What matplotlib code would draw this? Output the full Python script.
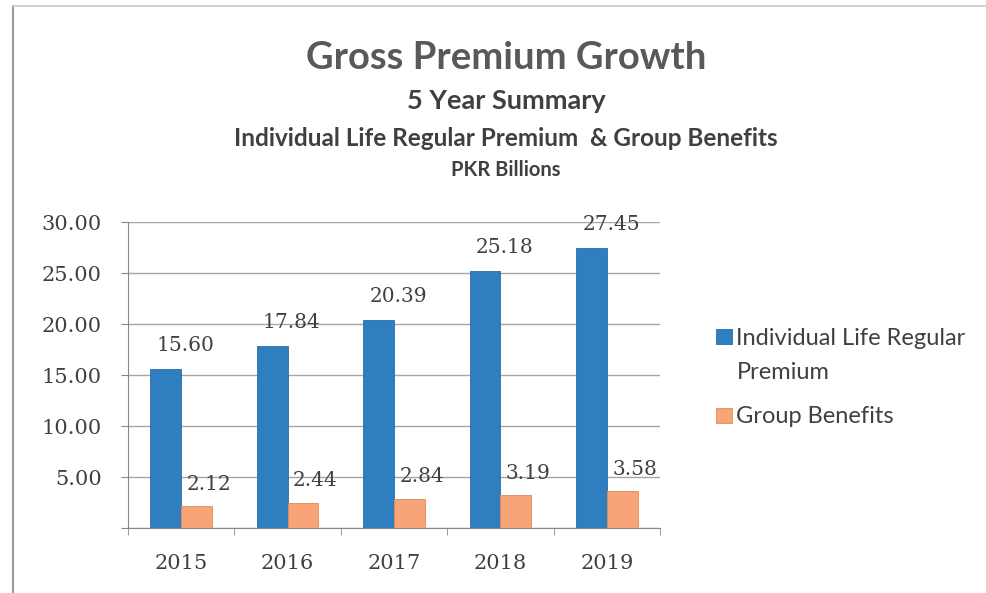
import numpy as np
import matplotlib
matplotlib.use("Agg")
import matplotlib.pyplot as plt
from matplotlib.lines import Line2D
from matplotlib.patches import Patch

# data
years = ["2015", "2016", "2017", "2018", "2019"]
individual = [15.60, 17.84, 20.39, 25.18, 27.45]
group = [2.12, 2.44, 2.84, 3.19, 3.58]
series_names = ["Individual Life Regular Premium", "Group Benefits"]
yticks = [0, 5, 10, 15, 20, 25, 30]

BLUE = "#2F7EBF"
ORANGE = "#F7A477"
TXT = "#404040"
SANS = ["Lato", "DejaVu Sans"]
SERIF = ["DejaVu Serif"]

fig = plt.figure(figsize=(9.86, 5.93), dpi=100)
ax = fig.add_axes([0.1298, 0.1096, 0.5396, 0.516])

x = np.arange(len(years))
w = 0.29
b1 = ax.bar(x - w / 2, individual, w, color=BLUE, edgecolor="#2A6DA6", lw=0.6,
            label=series_names[0], zorder=3)
b2 = ax.bar(x + w / 2, group, w, color=ORANGE, edgecolor="#E8875A", lw=0.6,
            label=series_names[1], zorder=3)

for i, v in enumerate(individual):
    ax.annotate(f"{v:.2f}", (x[i] + 0.04, v), xytext=(0, 17), textcoords="offset points",
                ha="center", va="center", fontsize=14.5, color=TXT, family=SERIF)
for i, v in enumerate(group):
    ax.annotate(f"{v:.2f}", (x[i] + 0.26, v), xytext=(0, 16), textcoords="offset points",
                ha="center", va="center", fontsize=14.5, color=TXT, family=SERIF)

ax.set_xlim(-0.5, len(years) - 0.5)
ax.set_ylim(0, 30)
ax.set_yticks(yticks)
ax.set_yticklabels(["" if t == 0 else f"{t:.2f}" for t in yticks],
                   fontsize=15, color=TXT, family=SERIF)
ax.set_xticks(x)
ax.set_xticklabels(years, fontsize=15, color=TXT, family=SERIF)
ax.set_xticks(np.arange(len(years) + 1) - 0.5, minor=True)
ax.tick_params(axis="x", which="major", length=0, pad=19)
ax.tick_params(axis="x", which="minor", length=5, color="#888888", direction="out")
ax.tick_params(axis="y", length=5, color="#888888", pad=14)
ax.grid(axis="y", color="#A6A6A6", lw=1, zorder=0)
for s in ["top", "right"]:
    ax.spines[s].set_visible(False)
for s in ["left", "bottom"]:
    ax.spines[s].set_color("#888888")

# legend: first name wraps onto a second line, square sits on the first line
first, rest = series_names[0].rsplit(" ", 1)
blank = Patch(facecolor="none", edgecolor="none")
lkw = dict(loc="upper left", frameon=False, handlelength=0.65, handleheight=0.6,
           handletextpad=0.2, prop={"family": SANS, "size": 17})
leg1 = ax.legend([b1.patches[0], blank], [first, rest], bbox_to_anchor=(1.066, 0.723),
                 labelspacing=0.55, **lkw)
ax.add_artist(leg1)
leg2 = ax.legend([b2.patches[0]], [series_names[1]], bbox_to_anchor=(1.066, 0.467), **lkw)
for lg in (leg1, leg2):
    for t in lg.get_texts():
        t.set_color(TXT)

fig.text(0.513, 0.902, "Gross Premium Growth", ha="center", va="center",
         fontsize=27.5, fontweight="bold", color="#595959", family=SANS)
fig.text(0.513, 0.83, "5 Year Summary", ha="center", va="center",
         fontsize=19.5, fontweight="bold", color=TXT, family=SANS)
fig.text(0.513, 0.767, "Individual Life Regular Premium  & Group Benefits",
         ha="center", va="center", fontsize=17.5, fontweight="bold", color=TXT, family=SANS)
fig.text(0.513, 0.713, "PKR Billions", ha="center", va="center",
         fontsize=14.5, fontweight="bold", color=TXT, family=SANS)

# chart frame
fig.add_artist(Line2D([0.013, 0.013], [0.0, 0.99], color="#9A9A9A", lw=1.5))
fig.add_artist(Line2D([0.013, 1.0], [0.99, 0.99], color="#C8C8C8", lw=1.2))

fig.savefig("out.png", dpi=100)
